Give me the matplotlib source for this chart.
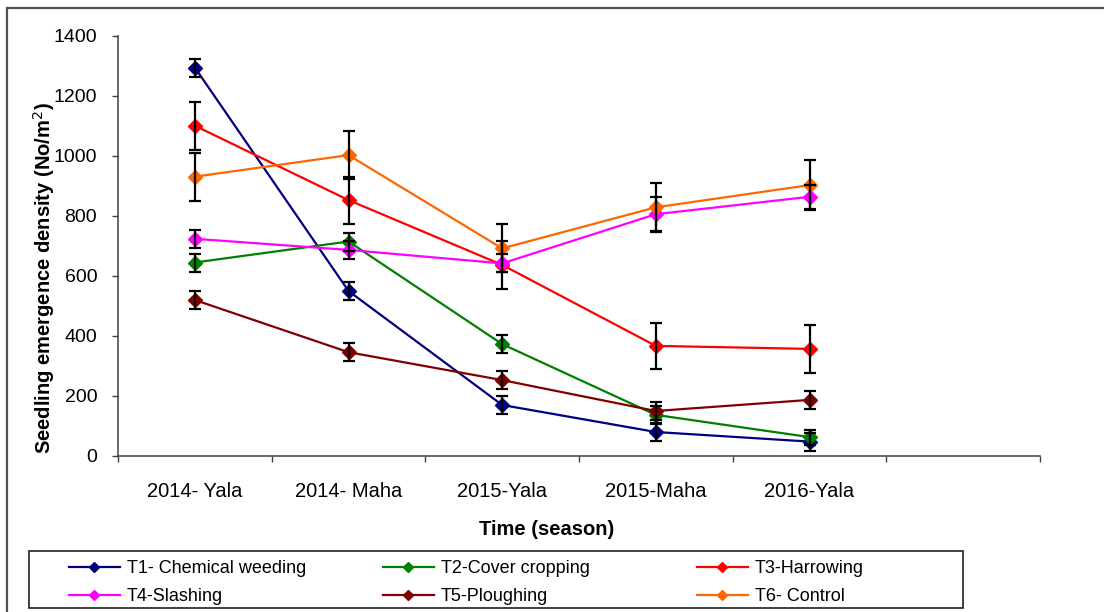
import matplotlib
matplotlib.use('Agg')
import matplotlib.pyplot as plt
from matplotlib.lines import Line2D
from matplotlib.patches import Rectangle

plt.rcParams['font.family'] = ['Liberation Sans', 'DejaVu Sans']

# seasons (6th slot on the axis is left empty, as in the original)
SEASONS = ['2014- Yala', '2014- Maha', '2015-Yala', '2015-Maha', '2016-Yala']

T1_MEAN = [1295, 550, 170, 80, 48]
T1_ERR = [30, 30, 30, 30, 30]
T2_MEAN = [645, 715, 373, 137, 63]
T2_ERR = [30, 30, 30, 30, 25]
T3_MEAN = [1101, 853, 637, 367, 357]
T3_ERR = [80, 78, 80, 78, 79]
T4_MEAN = [724, 687, 642, 806, 864]
T4_ERR = [30, 30, 30, 58, 40]
T5_MEAN = [520, 346, 253, 150, 187]
T5_ERR = [29, 30, 30, 30, 31]
T6_MEAN = [931, 1003, 692, 829, 903]
T6_ERR = [80, 80, 80, 80, 83]

SERIES = [
    ('T1- Chemical weeding', T1_MEAN, T1_ERR, '#000080'),
    ('T2-Cover cropping', T2_MEAN, T2_ERR, '#008000'),
    ('T3-Harrowing', T3_MEAN, T3_ERR, '#FF0000'),
    ('T4-Slashing', T4_MEAN, T4_ERR, '#FF00FF'),
    ('T5-Ploughing', T5_MEAN, T5_ERR, '#800000'),
    ('T6- Control', T6_MEAN, T6_ERR, '#FF6600'),
]

W, H = 1104, 612
fig = plt.figure(figsize=(W / 100, H / 100), dpi=100)
ax = fig.add_axes([118 / W, 1 - 456 / H, 922 / W, 420 / H])

x = list(range(len(SEASONS)))
handles = {}
for name, mean, err, color in SERIES:
    ax.errorbar(x, mean, yerr=err, fmt='none', ecolor='black', elinewidth=1.6,
                capsize=4, capthick=1.6, zorder=3)
    ax.plot(x, mean, color=color, lw=1.6, marker='D', markersize=7,
            markeredgecolor=color, zorder=2)
    handles[name] = Line2D([], [], color=color, lw=1.6, marker='D', markersize=5)

ax.set_xlim(-0.5, len(SEASONS) + 0.5)
ax.set_ylim(0, 1400)
ax.set_yticks(range(0, 1401, 200))

# category boundaries get the tick marks, centres get the labels
ax.set_xticks([i - 0.5 for i in range(len(SEASONS) + 2)])
ax.set_xticklabels([])
ax.set_xticks(x, minor=True)
ax.set_xticklabels(SEASONS, minor=True)
ax.tick_params(axis='x', which='major', direction='out', length=4, width=1, color='#404040')
ax.tick_params(axis='x', which='minor', length=0, pad=19, labelsize=14.5)
ax.tick_params(axis='y', direction='out', length=4, width=1, color='#404040', pad=11,
               labelsize=14)

for side in ['top', 'right']:
    ax.spines[side].set_visible(False)
for side in ['left', 'bottom']:
    ax.spines[side].set_color('#404040')
    ax.spines[side].set_linewidth(1.1)

ax.set_ylabel('Seedling emergence density (No/m$^{2}$)', fontsize=14.5, fontweight='bold')
ax.yaxis.set_label_coords(-0.066, 0.424)
ax.set_xlabel('Time (season)', fontsize=14.5, fontweight='bold')
ax.xaxis.set_label_coords(0.465, -0.152)

# legend: framed box with three equally spaced columns
fig.add_artist(Rectangle((29 / W, 1 - 608 / H), 934 / W, 57 / H, transform=fig.transFigure,
                         fill=False, edgecolor='#202020', lw=1.2))
columns = [['T1- Chemical weeding', 'T4-Slashing'],
           ['T2-Cover cropping', 'T5-Ploughing'],
           ['T3-Harrowing', 'T6- Control']]
for col, names in enumerate(columns):
    leg = fig.legend([handles[n] for n in names], names, loc='upper left',
                     bbox_to_anchor=((69 + 314 * col) / W, 1 - 560 / H),
                     frameon=False, fontsize=13, handlelength=2.8, handletextpad=0.4,
                     borderpad=0, borderaxespad=0, labelspacing=0.62)

# outer chart border
fig.add_artist(Rectangle((7 / W, -0.1), 1.2, 1.1 - 8 / H, transform=fig.transFigure,
                         fill=False, edgecolor='#505050', lw=1.6))

fig.savefig('out.png', dpi=100)
